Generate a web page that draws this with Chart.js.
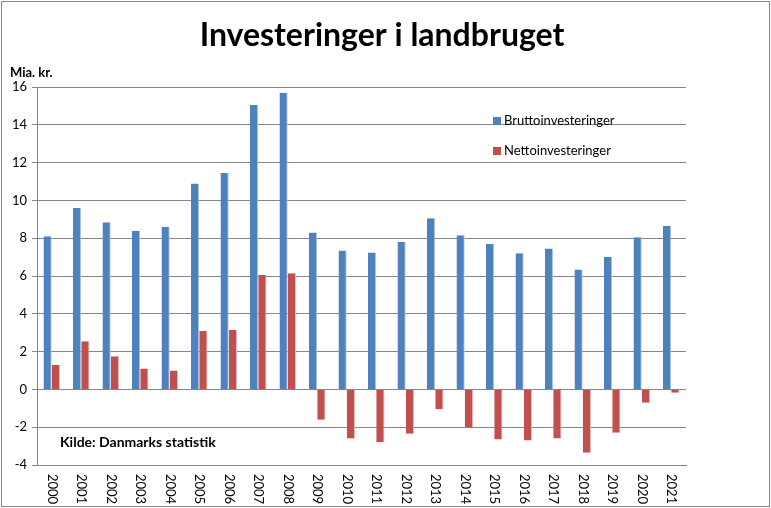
<!DOCTYPE html>
<html lang="da">
<head>
<meta charset="UTF-8">
<script src="https://cdn.jsdelivr.net/npm/chart.js@4.4.1/dist/chart.umd.min.js"></script>
<title>Investeringer i landbruget</title>
<style>
  html, body { margin: 0; padding: 0; background: #fff; }
  #wrap { width: 771px; height: 508px; }
</style>
</head>
<body>
<div id="wrap"><canvas id="myChart" width="771" height="508"></canvas></div>
<script>
var years = ['2000','2001','2002','2003','2004','2005','2006','2007','2008','2009','2010',
             '2011','2012','2013','2014','2015','2016','2017','2018','2019','2020','2021'];
var brutto = [8.1, 9.6, 8.85, 8.4, 8.6, 10.9, 11.45, 15.05, 15.7, 8.3, 7.35,
              7.25, 7.8, 9.05, 8.15, 7.7, 7.2, 7.45, 6.35, 7.0, 8.05, 8.65];
var netto = [1.3, 2.55, 1.75, 1.1, 1.0, 3.1, 3.15, 6.05, 6.15, -1.6, -2.6,
             -2.8, -2.35, -1.05, -2.0, -2.65, -2.7, -2.6, -3.35, -2.3, -0.7, -0.18];
var yTicks = [-4, -2, 0, 2, 4, 6, 8, 10, 12, 14, 16];

var fontName = 'Lato, Carlito, "Liberation Sans", sans-serif';

var decor = {
  id: 'decor',
  beforeDraw: function(chart) {
    var c = chart.ctx;
    c.save();
    c.fillStyle = '#fff';
    c.fillRect(0, 0, chart.width, chart.height);
    c.restore();
  },
  afterDraw: function(chart) {
    var c = chart.ctx;
    var area = chart.chartArea;
    var xs = chart.scales.x;
    c.save();
    // border round the whole chart
    c.strokeStyle = '#868686';
    c.lineWidth = 1;
    c.strokeRect(1.5, 1.5, chart.width - 3, chart.height - 3);

    c.fillStyle = '#000';
    c.font = 'bold 32px ' + fontName;
    c.textAlign = 'center';
    c.textBaseline = 'middle';
    c.fillText('Investeringer i landbruget', 382, 36);

    c.font = 'bold 13px ' + fontName;
    c.textAlign = 'left';
    c.fillText('Mia. kr.', 10, 73);
    c.font = 'bold 14px ' + fontName;
    c.fillText('Kilde: Danmarks statistik', 60, 442);

    // legend
    c.font = '13px ' + fontName;
    chart.data.datasets.forEach(function(ds, i) {
      var y = 121 + i * 30;
      c.fillStyle = ds.backgroundColor;
      c.fillRect(493, y - 4, 8, 8);
      c.fillStyle = '#000';
      c.fillText(ds.label, 504, y);
    });

    // x labels, read top to bottom
    c.font = '13px ' + fontName;
    c.fillStyle = '#000';
    years.forEach(function(lbl, i) {
      var x = xs.getPixelForValue(i);
      c.save();
      c.translate(x, area.bottom + 9);
      c.rotate(Math.PI / 2);
      c.textAlign = 'left';
      c.textBaseline = 'middle';
      c.fillText(lbl, 0, 0);
      c.restore();
    });
    c.restore();
  }
};

var ctx = document.getElementById('myChart').getContext('2d');
var myChart = new Chart(ctx, {
  type: 'bar',
  data: {
    labels: years,
    datasets: [{
      label: 'Bruttoinvesteringer',
      data: brutto,
      backgroundColor: '#4F81BD',
      borderColor: '#B9CDE5',
      borderWidth: { right: 1 },
      borderSkipped: false,
      categoryPercentage: 0.56,
      barPercentage: 1.0
    }, {
      label: 'Nettoinvesteringer',
      data: netto,
      backgroundColor: '#C0504D',
      borderColor: '#E6B9B8',
      borderWidth: { right: 1 },
      borderSkipped: false,
      categoryPercentage: 0.56,
      barPercentage: 1.0
    }]
  },
  options: {
    responsive: false,
    animation: false,
    devicePixelRatio: 1,
    layout: { padding: { top: 87, right: 85, left: 0, bottom: 0 } },
    plugins: {
      legend: { display: false },
      title: { display: false },
      tooltip: { enabled: false }
    },
    scales: {
      x: {
        grid: { display: false },
        border: { display: true, color: '#868686' },
        ticks: { display: false },
        afterFit: function(s) { s.height = 43; }
      },
      y: {
        min: -4,
        max: 16,
        afterBuildTicks: function(s) {
          s.ticks = yTicks.map(function(v) { return { value: v }; });
        },
        grid: { color: '#868686', tickLength: 5, drawTicks: true },
        border: { display: true, color: '#868686' },
        ticks: {
          color: '#000',
          padding: 5,
          font: { family: fontName, size: 13 }
        },
        afterFit: function(s) { s.width = 37; }
      }
    }
  },
  plugins: [decor]
});
</script>
</body>
</html>
